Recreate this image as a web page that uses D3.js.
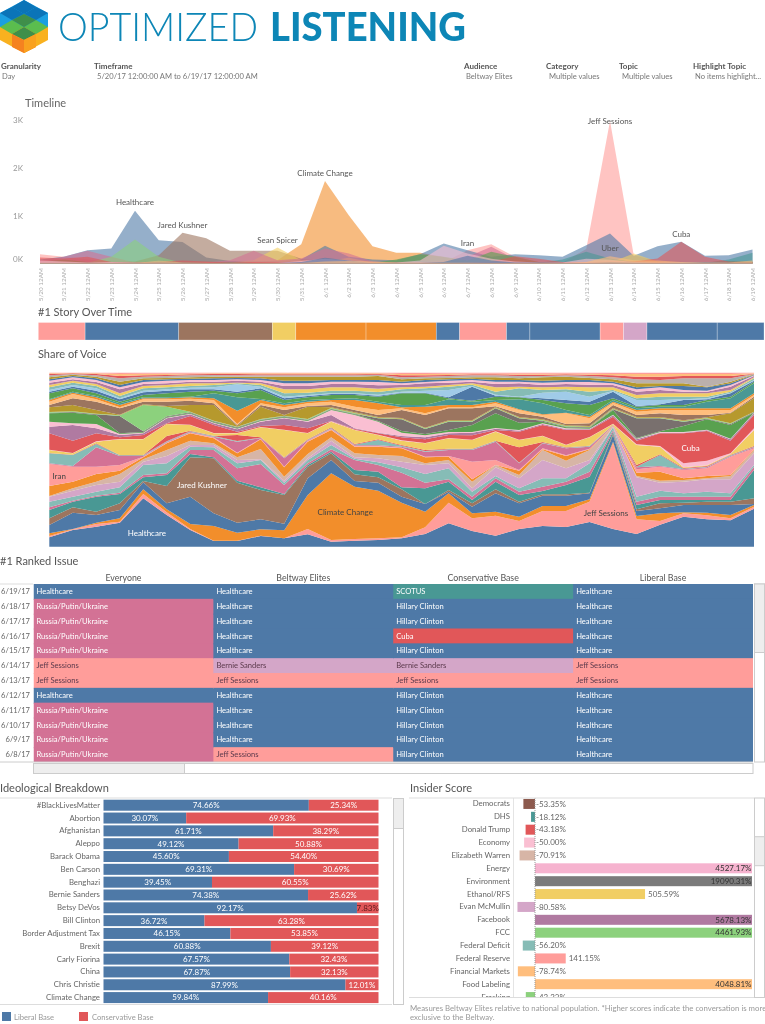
<!DOCTYPE html>
<html><head><meta charset="utf-8">
<script src="https://cdn.jsdelivr.net/npm/d3@7/dist/d3.min.js"></script>
<style>html,body{margin:0;padding:0;background:#fff}svg{display:block;filter:blur(.35px)}text{font-family:Lato,"Open Sans",sans-serif}</style>
</head><body><svg id="c" width="765" height="1024"></svg>
<script>
// ---------- Data ----------
const dayLabels=["5/20","5/21","5/22","5/23","5/24","5/25","5/26","5/27","5/28","5/29","5/30","5/31","6/1","6/2","6/3","6/4","6/5","6/6","6/7","6/8","6/9","6/10","6/11","6/12","6/13","6/14","6/15","6/16","6/17","6/18","6/19"];

// Timeline mentions per day
const tlClimate=[20,15,15,15,20,20,30,15,15,20,70,400,1720,1006,360,222,222,138,30,20,20,20,15,30,70,60,30,30,20,30,40];
const tlSessions=[195,140,90,30,20,30,10,5,5,5,5,10,20,15,10,10,30,20,278,400,139,30,20,300,2970,170,50,30,30,20,20];
const tlHealthcare=[83,139,278,312,1097,486,450,125,50,50,50,83,368,139,83,70,194,416,278,139,194,174,139,382,625,160,361,451,160,174,291];
const tlKushner=[10,10,15,40,40,170,640,527,264,264,264,100,40,30,20,30,30,30,20,20,30,20,20,20,30,20,10,10,10,10,10];
const tlSpicer=[5,5,5,10,10,50,20,20,20,70,333,70,40,120,20,15,15,15,15,10,10,10,10,10,15,208,40,15,10,10,10];
const tlRussia=[60,139,264,139,20,20,10,20,70,264,70,104,312,208,40,20,20,60,139,347,90,30,20,40,60,30,30,30,30,20,20];
const tlFcc=[10,20,15,139,500,139,10,10,10,10,10,10,15,10,10,10,30,20,10,20,10,10,10,10,10,10,10,15,15,10,10];
const tlGreen=[30,83,30,20,20,15,10,10,20,10,10,10,20,10,10,83,194,139,60,243,139,30,20,30,20,30,30,30,20,50,30];
const tlTeal=[15,15,20,15,10,60,20,10,20,10,10,10,20,10,10,20,40,30,20,20,15,15,83,243,104,30,20,20,15,83,222];
const tlCuba=[125,104,139,30,20,30,60,40,20,30,20,20,30,30,20,20,20,20,20,40,150,100,30,30,40,40,104,451,139,40,30];
const tlIran=[60,40,20,30,20,10,10,10,10,10,10,50,100,60,15,20,60,368,208,100,40,20,20,100,80,30,20,30,20,10,10];
const tlClinton=[10,10,10,10,10,30,20,10,10,10,10,30,120,60,10,10,10,30,160,60,20,20,10,10,30,20,10,20,30,20,20];
const tlEthanol=[10,10,10,10,10,60,20,10,10,10,10,10,40,50,40,15,15,15,15,10,10,10,10,30,152,70,60,30,20,20,60];
const timelineSeries=[tlClimate,tlSessions,tlHealthcare,tlKushner,tlSpicer,tlRussia,tlFcc,tlGreen,tlTeal,tlCuba,tlIran,tlClinton,tlEthanol];
const timelineColors=["#f28e2b","#ff9d9a","#4e79a7","#9c755f","#f1ce63","#d37295","#8cd17d","#59a14f","#499894","#e15759","#fabfd2","#4e79a7","#ffbe7d"];
const timelineNotes=[["Healthcare",4,1205],["Jared Kushner",6,723],["Sean Spicer",10,398],["Climate Change",12,1807],["Iran",18,347],["Jeff Sessions",24,2887],["Uber",24,248],["Cuba",27,538]];

// #1 story
const storyNames=["Jeff Sessions","Healthcare","Jared Kushner","Sean Spicer","Climate Change","Climate Change","Healthcare","Jeff Sessions","Healthcare","Healthcare","Jeff Sessions","Bernie Sanders","Healthcare","Healthcare"];
const storyDays=[2,4,4,1,3,3,1,2,1,3,1,1,3,2];

// Share of voice: running total of the share, each layer up to its top edge, per day (whole day = 522)
const shareRuns=[
[28,50,60,72,145,95,50,17,17,32,25,37,15,18,20,25,38,70,47,33,53,62,59,74,53,38,66,90,82,79,114],
[32,52,68,75,158,103,53,18,18,33,25,53,20,23,25,28,58,132,85,93,77,107,107,135,310,82,77,100,94,85,120],
[40,53,72,85,172,112,68,62,42,52,49,155,220,180,168,132,105,160,100,105,90,122,122,142,315,92,100,103,102,95,125],
[65,102,95,110,193,130,150,100,72,82,69,205,260,197,192,150,128,165,120,160,130,153,153,160,335,107,115,125,125,125,128],
[85,118,105,130,197,182,268,265,192,170,155,240,280,217,208,172,128,170,130,172,135,157,157,162,340,112,130,132,135,135,145],
[110,135,150,158,208,215,278,268,198,178,158,245,285,230,225,178,175,195,140,195,155,167,185,210,345,125,140,140,140,140,230],
[118,138,153,162,215,220,290,290,235,248,185,250,292,260,245,222,192,202,150,205,165,180,195,225,350,135,150,150,150,150,240],
[135,150,165,178,245,250,300,298,250,260,192,260,305,264,253,238,218,235,165,212,175,205,205,250,358,150,168,160,165,160,245],
[150,168,185,195,255,272,305,305,260,262,198,265,318,268,265,255,245,250,175,238,205,260,235,260,360,208,192,195,202,202,280],
[152,175,195,218,262,290,318,310,268,293,210,278,328,280,275,272,250,260,195,245,215,290,258,290,361,212,198,200,205,212,290],
[182,195,218,228,268,310,340,325,280,322,238,315,350,300,300,295,268,270,202,245,228,292,272,292,362,222,225,205,212,215,292],
[248,240,240,245,270,312,342,328,282,324,240,317,352,302,302,297,270,272,255,260,230,295,274,294,363,232,240,230,235,270,295],
[250,242,298,272,272,314,344,330,315,326,265,319,354,304,304,300,285,290,290,315,250,310,295,300,364,238,242,232,238,272,298],
[280,275,308,274,274,316,346,332,317,327,267,321,356,306,320,303,287,292,292,317,252,312,297,302,365,240,275,234,240,274,300],
[281,276,310,275,275,332,348,333,335,328,268,322,358,308,322,305,290,294,294,318,298,314,298,303,366,245,277,236,242,276,302],
[290,280,315,322,322,368,365,340,340,358,350,340,375,350,335,318,310,325,320,345,320,332,305,328,368,305,300,238,244,278,350],
[291,281,316,323,323,369,366,341,341,359,351,341,376,351,336,319,311,326,321,346,321,333,306,329,369,307,302,250,258,280,355],
[340,318,340,328,335,370,392,365,345,362,365,355,377,353,340,328,322,335,334,350,345,365,350,350,390,318,340,340,347,318,395],
[360,365,355,335,340,385,397,370,352,375,385,375,395,355,342,332,328,340,342,354,348,368,352,352,394,322,342,342,349,322,400],
[375,370,368,338,342,387,399,372,354,377,387,377,410,395,375,342,334,344,344,356,350,370,355,354,396,324,344,344,351,324,402],
[400,402,395,340,344,389,401,374,356,379,389,379,412,397,377,347,338,350,365,400,372,375,358,356,410,326,346,362,382,365,402],
[402,404,397,392,346,391,403,376,358,381,391,381,414,399,385,382,353,375,375,415,385,378,360,358,412,385,385,375,384,368,404],
[404,406,399,394,425,420,405,378,360,383,393,383,416,401,387,384,355,377,377,417,387,380,362,360,414,387,387,377,386,370,405],
[418,425,410,396,427,422,425,425,362,420,395,420,418,403,389,386,357,379,379,419,389,382,364,362,416,389,389,379,388,400,445],
[425,445,435,415,435,435,438,430,365,425,410,422,425,410,395,410,395,415,415,421,400,390,368,370,425,395,400,395,395,402,450],
[435,458,442,418,442,442,444,440,368,430,418,430,435,420,410,415,400,418,418,430,410,395,400,385,432,405,410,410,410,410,455],
[440,462,448,425,445,445,448,445,408,440,425,435,440,440,430,418,420,425,425,435,412,397,402,390,435,410,415,415,415,415,460],
[442,465,452,430,448,448,450,460,448,443,430,440,443,445,435,425,425,442,435,440,442,430,410,395,440,415,420,420,435,445,490],
[460,475,460,435,455,460,465,468,460,470,440,448,455,455,450,460,460,445,438,450,448,440,430,425,445,420,425,425,440,450,495],
[465,480,468,442,463,468,472,472,465,475,445,452,458,458,453,462,462,448,480,453,449,445,440,435,465,422,427,440,442,460,498],
[470,485,475,445,468,472,477,478,487,480,450,455,460,460,456,465,468,470,482,456,450,462,465,450,467,440,440,442,445,462,500],
[478,492,482,452,475,478,482,485,490,485,460,462,468,468,464,472,475,480,486,465,475,470,472,465,470,445,450,450,450,465,505],
[485,498,488,460,482,485,490,490,492,490,472,472,478,478,474,478,480,485,490,478,480,478,480,478,478,455,460,460,460,470,508],
[492,502,494,472,488,490,495,495,498,495,482,482,488,488,484,485,490,492,495,488,490,485,488,486,485,465,470,465,465,480,512],
[498,508,500,478,494,498,500,500,502,500,490,490,495,495,494,490,494,498,500,495,495,492,494,494,490,472,478,470,468,485,514],
[502,512,505,485,500,502,504,505,506,505,498,498,500,500,500,495,500,502,504,500,500,498,500,500,495,478,482,482,478,490,516],
[508,516,510,495,505,506,508,510,510,510,510,510,510,510,512,502,505,506,508,508,505,508,510,506,502,490,490,490,480,495,517],
[514,518,514,505,510,512,514,515,514,514,514,514,514,514,516,508,510,512,514,514,512,512,514,512,508,502,500,505,505,505,518],
[518,520,518,512,514,515,517,518,518,517,517,517,517,517,518,514,514,515,517,517,516,516,517,516,514,510,510,512,512,512,519],
[520,521,520,518,519,519,519,520,520,520,520,520,520,520,520,518,518,519,519,519,519,519,519,519,518,518,518,518,518,518,520],
[522,522,522,522,522,522,522,522,522,522,522,522,522,522,522,522,522,522,522,522,522,522,522,522,522,522,522,522,522,522,522]
];
const shareColors=["#4e79a7","#ff9d9a","#f28e2b","#4e79a7","#9c755f","#499894","#d37295","#86bcb6","#d4a6c8","#d7b5a6","#f28e2b","#ff9d9a","#d37295","#86bcb6","#e15759","#f1ce63","#fabfd2","#e15759","#b07aa1","#fabfd2","#59a14f","#79706e","#8cd17d","#b6992d","#9c755f","#ffbe7d","#f28e2b","#499894","#59a14f","#4e79a7","#a0cbe8","#86bcb6","#f1ce63","#b07aa1","#fabfd2","#4e79a7","#b6992d","#bab0ac","#e15759","#ffbe7d","#ff9d9a"];
const shareNotes=[["Iran",0.42,.408,"#444"],["Jared Kushner",6.5,.355,"#fff"],["Climate Change",12.6,.2,"#444"],["Healthcare",4.15,.08,"#fff"],["Jeff Sessions",23.7,.195,"#444"],["Cuba",27.3,.57,"#fff"]];

// #1 ranked issue
const rankDates=["6/19/17","6/18/17","6/17/17","6/16/17","6/15/17","6/14/17","6/13/17","6/12/17","6/11/17","6/10/17","6/9/17","6/8/17"];
const rankHeaders=["Everyone","Beltway Elites","Conservative Base","Liberal Base"];
const rankEveryone=["Healthcare","Russia/Putin/Ukraine","Russia/Putin/Ukraine","Russia/Putin/Ukraine","Russia/Putin/Ukraine","Jeff Sessions","Jeff Sessions","Healthcare","Russia/Putin/Ukraine","Russia/Putin/Ukraine","Russia/Putin/Ukraine","Russia/Putin/Ukraine"];
const rankBeltway=["Healthcare","Healthcare","Healthcare","Healthcare","Healthcare","Bernie Sanders","Jeff Sessions","Healthcare","Healthcare","Healthcare","Healthcare","Jeff Sessions"];
const rankConservative=["SCOTUS","Hillary Clinton","Hillary Clinton","Cuba","Hillary Clinton","Bernie Sanders","Jeff Sessions","Hillary Clinton","Hillary Clinton","Hillary Clinton","Hillary Clinton","Hillary Clinton"];
const rankLiberal=["Healthcare","Healthcare","Healthcare","Healthcare","Healthcare","Jeff Sessions","Jeff Sessions","Healthcare","Healthcare","Healthcare","Healthcare","Healthcare"];

// Ideological breakdown
const ideoTopics=["#BlackLivesMatter","Abortion","Afghanistan","Aleppo","Barack Obama","Ben Carson","Benghazi","Bernie Sanders","Betsy DeVos","Bill Clinton","Border Adjustment Tax","Brexit","Carly Fiorina","China","Chris Christie","Climate Change"];
const ideoLiberal=[74.66,30.07,61.71,49.12,45.60,69.31,39.45,74.38,92.17,36.72,46.15,60.88,67.57,67.87,87.99,59.84];
const ideoConservative=[25.34,69.93,38.29,50.88,54.40,30.69,60.55,25.62,7.83,63.28,53.85,39.12,32.43,32.13,12.01,40.16];

// Insider score
const insiderTopics=["Democrats","DHS","Donald Trump","Economy","Elizabeth Warren","Energy","Environment","Ethanol/RFS","Evan McMullin","Facebook","FCC","Federal Deficit","Federal Reserve","Financial Markets","Food Labeling","Fracking"];
const insiderScores=[-53.35,-18.12,-43.18,-50.00,-70.91,4527.17,19090.31,505.59,-80.58,5678.13,4461.93,-56.20,141.15,-78.74,4048.81,-42.23];
const insiderColors=["#8c5a4e","#499894","#e15759","#fabfd2","#d7b5a6","#f6b3cf","#7b7b7b","#f1ce63","#d4a6c8","#b07aa1","#8cd17d","#86bcb6","#ff9d9a","#ffbe7d","#ffbe7d","#8cd17d"];

const topicColor={"Healthcare":"#4e79a7","Hillary Clinton":"#4e79a7","Russia/Putin/Ukraine":"#d37295","Jeff Sessions":"#ff9d9a","Bernie Sanders":"#d4a6c8","SCOTUS":"#499894","Cuba":"#e15759","Jared Kushner":"#9c755f","Sean Spicer":"#f1ce63","Climate Change":"#f28e2b"};
const darkTextTopics=["Jeff Sessions","Bernie Sanders"];

// ---------- Drawing ----------
const svg=d3.select("#c");
const txt=(s,x,y,size,fill,anchor,weight)=>svg.append("text").attr("x",x).attr("y",y).attr("font-size",size).attr("fill",fill||"#666").attr("text-anchor",anchor||"start").attr("font-weight",weight||400).text(s);
const rect=(x,y,w,h,fill,stroke)=>svg.append("rect").attr("x",x).attr("y",y).attr("width",w).attr("height",h).attr("fill",fill).attr("stroke",stroke||"none");

// Logo
const logoParts=[
["#1b9fe0","24,0 48,13 48,27 24,27 0,27 0,13"],
["#0b74b8","12,7 24,0 36,7 24,14"],["#0b74b8","0,13 12,7 24,14 12,20"],["#0b74b8","24,14 36,7 48,13 36,20"],
["#f9b11f","0,27 48,27 48,40 24,53 0,40"],
["#5bbd4e","0,27 12,20 24,27 12,34"],["#5bbd4e","24,27 36,20 48,27 36,34"],["#3f8f4a","12,20 24,14 36,20 24,27"],["#3f8f4a","12,34 24,27 36,34 24,40"],
["#f58220","12,34 24,40 36,34 36,47 24,53 12,47"],["#f9a11f","24,40 36,34 36,47 24,53"]];
svg.append("g").selectAll("polygon").data(logoParts).join("polygon").attr("fill",d=>d[0]).attr("points",d=>d[1]);
txt("OPTIMIZED",58,41,39,"#0d86b6","start",300).attr("textLength",200).attr("lengthAdjust","spacingAndGlyphs");
txt("LISTENING",270,41,39,"#0d86b6","start",900).attr("textLength",196).attr("lengthAdjust","spacingAndGlyphs");

// Filters
[["Granularity",1,"Day",2],["Timeframe",94,"5/20/17 12:00:00 AM to 6/19/17 12:00:00 AM",97],["Audience",464,"Beltway Elites",466],["Category",546,"Multiple values",549],["Topic",619,"Multiple values",622],["Highlight Topic",693,"No items highlight...",695]].forEach(f=>{
  txt(f[0],f[1],69,8,"#555","start",700);
  txt(f[2],f[3],79,7.6,"#777");
});

// Section titles
txt("Timeline",25,107,11,"#666");
txt("#1 Story Over Time",38,316,11,"#555");
txt("Share of Voice",38,358,11,"#555");
txt("#1 Ranked Issue",0,565,11,"#555");
txt("Ideological Breakdown",0,792,11,"#555");
txt("Insider Score",410,792,11,"#555");

// Timeline
const tlX=d3.scalePoint().domain(dayLabels).range([40,752.5]);
const tlY=d3.scaleLinear().domain([0,3000]).range([263.5,119.5]);
const tlArea=d3.area().x((d,i)=>tlX(dayLabels[i])).y0(tlY(0)).y1(d=>tlY(d));
svg.append("g").selectAll("path").data(timelineSeries).join("path").attr("d",tlArea).attr("fill",(d,i)=>timelineColors[i]).attr("fill-opacity",.6);
const tlYAxis=svg.append("g").attr("transform","translate(26,0)").call(d3.axisLeft(tlY).tickValues([0,1000,2000,3000]).tickSize(0).tickFormat(d=>(d/1000)+"K"));
tlYAxis.select(".domain").remove();
tlYAxis.selectAll("text").attr("font-size",8).attr("fill","#999").attr("font-family","Lato").attr("dy",d=>d===0?"-0.28em":"0.32em");
const tlXAxis=svg.append("g").attr("transform","translate(0,265)").call(d3.axisBottom(tlX).tickSize(0).tickFormat(d=>d+" 12AM"));
tlXAxis.select(".domain").remove();
tlXAxis.selectAll("text").attr("font-size",6.4).attr("fill","#aaa").attr("font-family","Lato").attr("transform","rotate(-90)").attr("text-anchor","end").attr("x",-3).attr("y",0).attr("dy","0.32em");
svg.append("g").selectAll("text").data(timelineNotes).join("text").attr("x",d=>tlX(dayLabels[d[1]])).attr("y",d=>tlY(d[2])-1).attr("text-anchor","middle").attr("font-size",8).attr("fill","#555").text(d=>d[0]);

// #1 story
const storyX=d3.scaleLinear().domain([0,31]).range([38.3,764]);
let dayAcc=0;
const storyCells=storyDays.map((n,i)=>{const c={name:storyNames[i],a:dayAcc,b:dayAcc+n};dayAcc+=n;return c;});
svg.append("g").selectAll("rect").data(storyCells).join("rect").attr("x",d=>storyX(d.a)).attr("width",d=>storyX(d.b)-storyX(d.a)).attr("y",322.5).attr("height",17.5).attr("fill",d=>topicColor[d.name]).attr("stroke","#fff").attr("stroke-opacity",.45).attr("stroke-width",.6);

// Share of voice
const shareKeys=shareRuns.map((r,i)=>i);
const shareRows=dayLabels.map((d,di)=>{const row={};let prev=0;shareRuns.forEach((r,k)=>{const top=Math.max(prev,r[di]);row[k]=top-prev;prev=top;});return row;});
const shareStack=d3.stack().keys(shareKeys).offset(d3.stackOffsetExpand)(shareRows);
const shX=d3.scaleLinear().domain([0,30]).range([49.3,754]);
const shY=d3.scaleLinear().domain([0,1]).range([546.7,372.7]);
const shArea=d3.area().x((d,i)=>shX(i)).y0(d=>shY(d[0])).y1(d=>shY(d[1]));
svg.append("g").selectAll("path").data(shareStack).join("path").attr("d",shArea).attr("fill",(d,i)=>shareColors[i]);
svg.append("g").selectAll("text").data(shareNotes).join("text").attr("x",d=>shX(d[1])).attr("y",d=>shY(d[2])+3).attr("text-anchor","middle").attr("font-size",8).attr("fill",d=>d[3]).text(d=>d[0]);

// #1 ranked issue
const rankCols=[rankEveryone,rankBeltway,rankConservative,rankLiberal];
const colX=d3.scaleBand().domain(rankHeaders).range([33.5,753]);
const rowY=d3.scaleBand().domain(rankDates).range([584,762]);
const rankClip=svg.append("clipPath").attr("id","rankClip");
rankClip.append("rect").attr("x",33.5).attr("y",584).attr("width",719.5).attr("height",178);
rankHeaders.forEach((h,c)=>{
  txt(h,colX(h)+colX.bandwidth()/2,581,8.8,"#555","middle");
  svg.append("g").attr("clip-path","url(#rankClip)").selectAll("rect").data(rankCols[c]).join("rect").attr("x",colX(h)).attr("width",colX.bandwidth()+1).attr("y",(d,i)=>rowY(rankDates[i])).attr("height",rowY.bandwidth()+1).attr("fill",d=>topicColor[d]);
  svg.append("g").selectAll("text").data(rankCols[c]).join("text").attr("x",colX(h)+3).attr("y",(d,i)=>rowY(rankDates[i])+rowY.bandwidth()/2+2.6).attr("font-size",7.6).attr("fill",d=>darkTextTopics.includes(d)?"#5c3a4c":"#fff").text(d=>d);
});
svg.append("g").selectAll("text").data(rankDates).join("text").attr("x",30).attr("y",d=>rowY(d)+rowY.bandwidth()/2+2.6).attr("text-anchor","end").attr("font-size",7.6).attr("fill","#666").text(d=>d);
svg.append("line").attr("x1",0).attr("x2",33).attr("y1",584).attr("y2",584).attr("stroke","#ddd");
svg.append("line").attr("x1",0).attr("x2",753).attr("y1",762).attr("y2",762).attr("stroke","#ccc");
rect(754.5,584,10,178,"#fff","#ccc");rect(754.5,584,10,68.5,"#eee","#ccc");
rect(33.5,763.5,719.5,10,"#fff","#ccc");rect(33.5,763.5,151,10,"#eee","#ccc");

// Ideological breakdown
const ideoX=d3.scaleLinear().domain([0,100]).range([103.5,378.5]);
const ideoY=d3.scaleBand().domain(ideoTopics).range([798.8,1004]);
const barH=11;
const barTop=t=>ideoY(t)+(ideoY.bandwidth()-barH)/2;
svg.append("line").attr("x1",0).attr("x2",392).attr("y1",798).attr("y2",798).attr("stroke","#ddd");
const ig=svg.append("g");
ig.selectAll("rect.l").data(ideoTopics).join("rect").attr("class","l").attr("x",ideoX(0)).attr("y",barTop).attr("height",barH).attr("width",(d,i)=>ideoX(ideoLiberal[i])-ideoX(0)).attr("fill","#4e79a7");
ig.selectAll("rect.r").data(ideoTopics).join("rect").attr("class","r").attr("x",(d,i)=>ideoX(ideoLiberal[i])).attr("y",barTop).attr("height",barH).attr("width",(d,i)=>ideoX(ideoConservative[i])-ideoX(0)).attr("fill","#e15759");
ig.selectAll("text.l").data(ideoTopics).join("text").attr("class","l").attr("x",(d,i)=>ideoX(ideoLiberal[i]/2)).attr("y",t=>barTop(t)+8.4).attr("text-anchor","middle").attr("font-size",8).attr("fill","#fff").text((d,i)=>ideoLiberal[i].toFixed(2)+"%");
ig.selectAll("text.r").data(ideoTopics).join("text").attr("class","r").attr("x",(d,i)=>ideoX(ideoLiberal[i]+ideoConservative[i]/2)).attr("y",t=>barTop(t)+8.4).attr("text-anchor","middle").attr("font-size",8).attr("fill",(d,i)=>ideoConservative[i]<10?"#5c1a1c":"#fff").text((d,i)=>ideoConservative[i].toFixed(2)+"%");
const ideoAxis=svg.append("g").attr("transform","translate(101,0)").call(d3.axisLeft(ideoY).tickSize(0).tickPadding(1));
ideoAxis.select(".domain").remove();
ideoAxis.selectAll("text").attr("font-size",7.8).attr("fill","#666").attr("font-family","Lato");
svg.append("line").attr("x1",0).attr("x2",392).attr("y1",1004.5).attr("y2",1004.5).attr("stroke","#ddd");
rect(393.5,798.5,10,206,"#fff","#ccc");rect(393.5,798.5,10,30,"#eee","#ccc");
// legend
rect(2,1012,9,9,"#4e79a7");txt("Liberal Base",14,1019.5,7.6,"#999");
rect(79,1012,9,9,"#e15759");txt("Conservative Base",92,1019.5,7.6,"#999");

// Insider score
const insX=d3.scaleLinear().domain([0,997]).range([535,752]);
const insY=d3.scaleBand().domain(insiderTopics).range([797.5,1003.5]);
const insClip=svg.append("clipPath").attr("id","insClip");
insClip.append("rect").attr("x",409).attr("y",798).attr("width",343).attr("height",199.5);
const inG=svg.append("g").attr("clip-path","url(#insClip)");
const insH=10;
const insTop=t=>insY(t)+(insY.bandwidth()-insH)/2;
inG.selectAll("rect").data(insiderTopics).join("rect").attr("x",(d,i)=>Math.min(insX(0),insX(insiderScores[i]))).attr("width",(d,i)=>Math.abs(Math.min(insX(insiderScores[i]),752)-insX(0))).attr("y",insTop).attr("height",insH).attr("fill",(d,i)=>insiderColors[i]);
inG.selectAll("text.v").data(insiderTopics).join("text").attr("class","v").attr("y",t=>insTop(t)+7.8).attr("font-size",8)
 .attr("x",(d,i)=>{const v=insiderScores[i];return v<0?insX(0)+1:(insX(v)>752?751.5:insX(v)+3);})
 .attr("text-anchor",(d,i)=>insX(insiderScores[i])>752?"end":"start")
 .attr("fill",(d,i)=>insX(insiderScores[i])>752?"#333":"#666").text((d,i)=>insiderScores[i].toFixed(2)+"%");
const insAxis=inG.append("g").attr("transform","translate(511,0)").call(d3.axisLeft(insY).tickSize(0).tickPadding(1));
insAxis.select(".domain").remove();
insAxis.selectAll("text").attr("font-size",7.8).attr("fill","#666").attr("font-family","Lato");
svg.append("line").attr("x1",535).attr("x2",535).attr("y1",798).attr("y2",997.5).attr("stroke","#999").attr("stroke-dasharray","1,1");
svg.append("line").attr("x1",513.5).attr("x2",513.5).attr("y1",798).attr("y2",997.5).attr("stroke","#e4e4e4");
svg.append("line").attr("x1",409).attr("x2",754).attr("y1",798).attr("y2",798).attr("stroke","#ddd");
svg.append("line").attr("x1",409).attr("x2",754).attr("y1",997.5).attr("y2",997.5).attr("stroke","#ddd");
rect(754.5,798,10,199.5,"#fff","#ccc");rect(754.5,836.7,10,29,"#eee","#ccc");
txt("Measures Beltway Elites relative to national population. *Higher scores indicate the conversation is more",410,1010.5,7.8,"#999");
txt("exclusive to the Beltway.",410,1020,7.8,"#999");
</script></body></html>
